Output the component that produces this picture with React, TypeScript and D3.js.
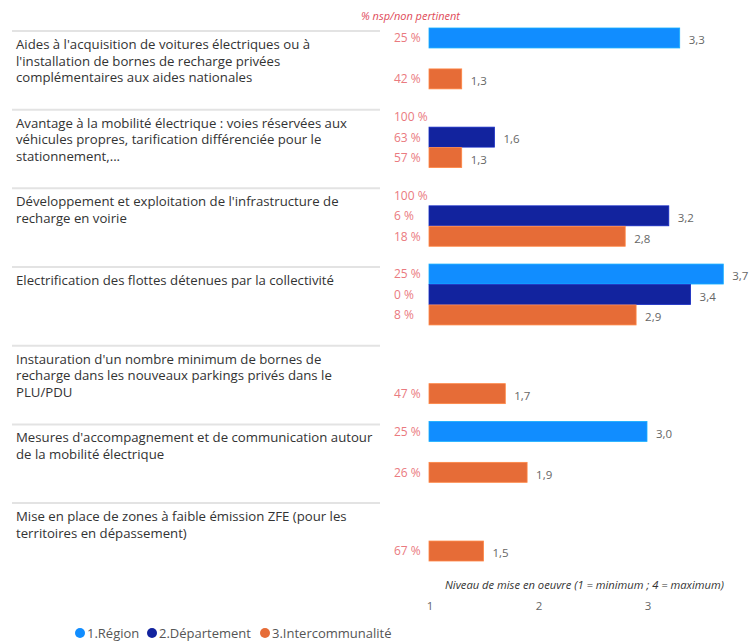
import React from "react";
import * as d3 from "d3";

const categoryLines = [
  ["Aides à l'acquisition de voitures électriques ou à", "l'installation de bornes de recharge privées", "complémentaires aux aides nationales"],
  ["Avantage à la mobilité électrique : voies réservées aux", "véhicules propres, tarification différenciée pour le", "stationnement,..."],
  ["Développement et exploitation de l'infrastructure de", "recharge en voirie"],
  ["Electrification des flottes détenues par la collectivité"],
  ["Instauration d'un nombre minimum de bornes de", "recharge dans les nouveaux parkings privés dans le", "PLU/PDU"],
  ["Mesures d'accompagnement et de communication autour", "de la mobilité électrique"],
  ["Mise en place de zones à faible émission ZFE (pour les", "territoires en dépassement)"],
];

const seriesNames = ["1.Région", "2.Département", "3.Intercommunalité"];
const seriesColors = ["#118DFF", "#12239E", "#E66C37"];

// niveau moyen de mise en oeuvre (null = pas de barre)
const regionValues = [3.3, null, null, 3.7, null, 3.0, null];
const departementValues = [null, 1.6, 3.2, 3.4, null, null, null];
const intercoValues = [1.3, 1.3, 2.8, 2.9, 1.7, 1.9, 1.5];

// % nsp / non pertinent
const regionNsp = [25, 100, 100, 25, null, 25, null];
const departementNsp = [null, 63, 6, 0, null, null, null];
const intercoNsp = [42, 57, 18, 8, 47, 26, 67];

const tickValues = [1, 2, 3];

const W = 749;
const H = 644;
const FONT = "'Segoe UI', 'Open Sans', sans-serif";

export default function App() {
  const values = [regionValues, departementValues, intercoValues];
  const nsp = [regionNsp, departementNsp, intercoNsp];

  const x = d3.scaleLinear().domain([1, 4]).range([429, 756]);
  const y0 = d3.scaleBand<number>()
    .domain(d3.range(categoryLines.length))
    .range([28, 561.5])
    .paddingInner(0.22)
    .paddingOuter(0);
  const y1 = d3.scaleBand<number>()
    .domain(d3.range(seriesNames.length))
    .range([0, y0.bandwidth()]);
  const fmt = (v: number) => d3.format(".1f")(v).replace(".", ",");

  return (
    <svg width={W} height={H} style={{ position: "absolute", left: 0, top: 0, background: "#fff" }} fontFamily={FONT}>
      <text x={361} y={20} fontSize={11} fontStyle="italic" fill="#E04A58">% nsp/non pertinent</text>

      {categoryLines.map((lines, i) => {
        const top = y0(i)! + 3;
        return (
          <g key={"cat" + i}>
            <line x1={12} x2={380} y1={top} y2={top} stroke="#e3e3e3" strokeWidth={2} />
            {lines.map((l, j) => (
              <text key={j} x={16} y={top + 18 + j * 16.5} fontSize={13.2} fill="#333">{l}</text>
            ))}
          </g>
        );
      })}

      {categoryLines.map((_, i) => (
        <g key={"bars" + i} transform={`translate(0,${y0(i)})`}>
          {seriesNames.map((s, k) => {
            const v = values[k][i];
            const p = nsp[k][i];
            const yy = y1(k)!;
            const h = y1.bandwidth();
            return (
              <g key={s}>
                {p !== null && (
                  <text x={394} y={yy + h / 2} dy="0.35em" fontSize={12} fill="#EA7A80">{p + " %"}</text>
                )}
                {v !== null && (
                  <>
                    <rect x={x(1)} y={yy} width={x(v) - x(1)} height={h - 0.5} fill={seriesColors[k]}
                      stroke={d3.color(seriesColors[k])!.brighter(0.6).toString()} strokeWidth={0.8} />
                    <text x={x(v) + 9} y={yy + h / 2 + 2} dy="0.35em" fontSize={11.5} fill="#666">{fmt(v)}</text>
                  </>
                )}
              </g>
            );
          })}
        </g>
      ))}

      <text x={445} y={589} fontSize={11.2} fontStyle="italic" fill="#333">Niveau de mise en oeuvre (1 = minimum ; 4 = maximum)</text>
      {tickValues.map(t => (
        <text key={t} x={x(t) + 1} y={606} dy="0.35em" textAnchor="middle" fontSize={11.5} fill="#666">{t}</text>
      ))}

      <g transform="translate(80,633)">
        {(() => {
          let cx = 0;
          const widths = [72, 113, 0];
          return seriesNames.map((s, k) => {
            const g = (
              <g key={s} transform={`translate(${cx},0)`}>
                <circle cx={0} cy={0} r={5} fill={seriesColors[k]} />
                <text x={7} y={0} dy="0.35em" fontSize={13} fill="#555">{s}</text>
              </g>
            );
            cx += widths[k];
            return g;
          });
        })()}
      </g>
    </svg>
  );
}
